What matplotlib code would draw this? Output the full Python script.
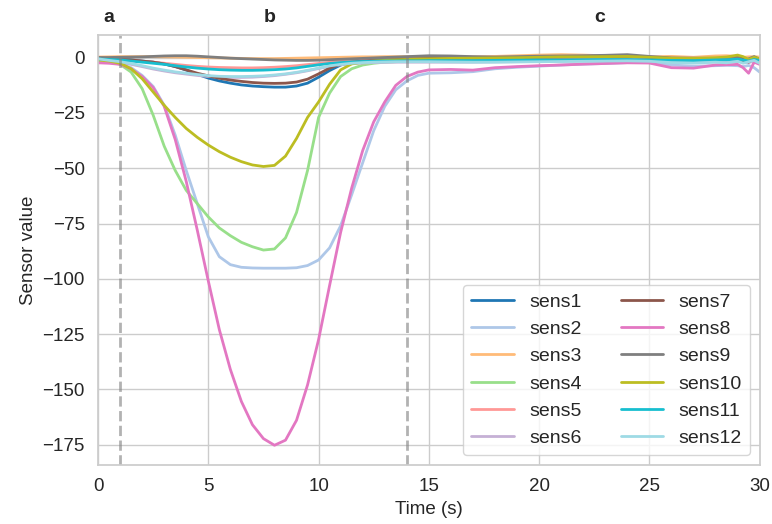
import numpy as np
import matplotlib.pyplot as plt
import seaborn as sns

# time grid (s): 0.5 s steps up to 15 s, then coarser, denser again at the very end
t = np.concatenate([np.arange(0, 15.01, 0.5), np.arange(16, 28.01, 1),
                    [28.5, 29, 29.25, 29.5, 29.75, 30]])

sens1 = [0, -0.3, -0.6, -1, -1.5, -2, -2.8, -4, -5.6, -7.5, -9.2, -10.5, -11.5, -12.3, -12.8, -13.1,
         -13.3, -13.3, -12.8, -11.5, -8.8, -5.8, -3.3, -2.2, -1.6, -1.3, -1.1, -1, -0.9, -0.8, -0.7,
         -0.6, -0.5, -0.4, -0.3, -0.2, -0.2, -0.1, 0, 0.1, -0.3, -0.8, -1, -0.8,
         -0.6, -0.5, -0.8, -1.5, -0.6, -1]
sens2 = [-1.5, -2, -2.8, -4.5, -8, -13, -21.5, -35, -51, -66, -81, -90, -93.6, -94.8, -95.1, -95.2,
         -95.2, -95.2, -95, -94, -91.5, -86, -76, -62, -47.5, -33, -22, -14.5, -10.5, -8, -7,
         -6.8, -6.3, -5, -4.3, -3.8, -3.3, -2.9, -2.6, -2.2, -2.2, -3.3, -3.8, -3.6,
         -3.4, -3.6, -4, -3.5, -4.5, -6.5]
sens3 = [0.3, 0.4, 0.5, 0.5, 0.5, 0.5, 0.4, 0.3, 0.2, 0.1, 0, -0.1, -0.2, -0.3, -0.4, -0.4,
         -0.4, -0.3, -0.2, -0.1, 0, 0.1, 0.2, 0.3, 0.4, 0.4, 0.5, 0.5, 0.5, 0.5, 0.4,
         0.3, 0.4, 0.6, 0.9, 1.2, 1.4, 1.2, 0.9, 0.8, 0.4, 0.6, 0.2, 0.8,
         0.9, 0.6, 0.2, 0.4, 0.5, 0.3]
sens4 = [-1, -1.5, -3, -6.5, -14, -26, -40, -51, -60, -66, -72, -77, -80.5, -83.5, -85.5, -87,
         -86.5, -81.5, -70, -51, -27, -16, -8.5, -5, -3.3, -2.5, -2, -1.8, -1.5, -1.3, -1.2,
         -1.0, -0.9, -0.8, -0.6, -0.4, -0.2, -0.1, 0, 0.1, -0.2, -0.6, -0.7, -0.5,
         -0.4, 0.4, -0.4, -0.9, 0.3, -0.6]
sens5 = [-0.3, -0.5, -0.8, -1.2, -1.6, -2, -2.5, -3, -3.5, -3.9, -4.2, -4.4, -4.5, -4.6, -4.6, -4.5,
         -4.3, -4.0, -3.6, -3.1, -2.6, -2.1, -1.7, -1.4, -1.2, -1.1, -1, -1, -0.9, -0.9, -0.8,
         -0.8, -0.8, -0.7, -0.6, -0.5, -0.5, -0.4, -0.3, -0.3, -0.5, -0.9, -1.0, -0.8,
         -0.7, -0.6, -0.8, -1.2, -0.7, -1.0]
sens6 = [-1, -1.5, -2.2, -3, -4, -5.1, -6, -6.8, -7.4, -8, -8.5, -8.8, -8.9, -8.9, -8.8, -8.5,
         -8.1, -7.5, -6.8, -5.9, -4.9, -3.9, -3.2, -2.7, -2.4, -2.2, -2.1, -2, -2, -2, -2,
         -2.0, -2.0, -1.9, -1.8, -1.7, -1.6, -1.5, -1.4, -1.3, -1.5, -2.0, -2.2, -1.9,
         -2.0, -1.7, -2.0, -2.2, -1.5, -2.0]
sens7 = [0, -0.3, -0.6, -1, -1.5, -2, -2.8, -4, -5.5, -7, -8.2, -9.3, -10.1, -10.7, -11.2, -11.5,
         -11.6, -11.5, -11, -9.7, -7.3, -4.7, -2.8, -2, -1.5, -1.2, -1, -0.8, -0.6, -0.4, -0.3,
         -0.2, -0.1, 0, 0.1, 0.2, 0.3, 0.4, 0.5, 0.7, 0.2, -0.3, -0.5, -0.4,
         -0.2, 0.5, -0.5, -2, 0, -0.5]
sens8 = [-2.3, -2.5, -3, -5, -8.5, -13.5, -22, -37, -56, -78, -101, -123, -141, -155.5, -166, -172.3,
         -175.3, -173, -164, -148, -127.5, -103, -79, -59, -42, -29, -20, -12.5, -8.5, -6.5, -5.5,
         -5.3, -5.6, -4.5, -4.0, -3.6, -3.3, -2.9, -2.6, -2.3, -2.4, -4.5, -4.7, -3.3,
         -3.2, -3.0, -4.5, -7.0, -2.0, -3.0]
sens9 = [0, 0.1, 0.2, 0.3, 0.4, 0.6, 0.8, 0.9, 0.9, 0.7, 0.4, 0.1, -0.2, -0.4, -0.6, -0.8,
         -1, -1.1, -1.2, -1.2, -1.1, -0.9, -0.7, -0.5, -0.3, -0.1, 0.1, 0.3, 0.5, 0.7, 0.9,
         0.8, 0.5, 0.3, 0.5, 0.7, 0.8, 0.9, 1.1, 1.4, 0.6, -0.1, -0.2, -0.3,
         -0.2, 0.3, -1.5, -0.5, 0.5, -0.8]
sens10 = [-1, -1.5, -2.5, -5, -9.5, -15.5, -21.5, -27, -32, -36, -39.5, -42.5, -45, -47, -48.5, -49.2,
          -48.7, -44.5, -36.5, -27, -20, -12, -5.5, -2.8, -2, -1.5, -1.2, -1, -0.8, -0.6, -0.5,
          -0.3, -0.2, -0.1, 0, 0.2, 0.4, 0.4, 0.5, 0.6, 0.2, -0.2, -0.3, 0,
          0.3, 1.2, 0.5, -0.8, 0.2, -0.5]
sens11 = [-0.5, -0.8, -1, -1.5, -2, -2.5, -3, -3.6, -4.2, -4.7, -5.1, -5.4, -5.6, -5.7, -5.7, -5.6,
          -5.4, -5.1, -4.6, -3.9, -3.2, -2.6, -2.2, -1.9, -1.7, -1.6, -1.5, -1.5, -1.4, -1.4, -1.3,
          -1.3, -1.3, -1.2, -1.1, -1.0, -1.0, -0.9, -0.8, -0.8, -1.0, -1.2, -1.3, -1.0,
          -0.9, -0.7, -1.0, -1.5, -0.8, -1.2]
sens12 = [-0.5, -1.2, -1.8, -2.6, -3.6, -4.7, -5.6, -6.4, -7, -7.6, -8.1, -8.4, -8.5, -8.5, -8.4, -8.2,
          -7.8, -7.3, -6.6, -5.7, -4.7, -3.7, -3, -2.5, -2.2, -2, -1.9, -1.8, -1.8, -1.8, -1.8,
          -1.9, -2.0, -2.0, -1.9, -1.8, -1.7, -1.6, -1.5, -1.4, -1.6, -2.2, -2.4, -2.0,
          -2.3, -1.6, -2.5, -1.8, -1.2, -2.5]

series = [sens1, sens2, sens3, sens4, sens5, sens6, sens7, sens8, sens9, sens10, sens11, sens12]
names = ["sens%d" % (i + 1) for i in range(12)]
colors = ["#1f77b4", "#aec7e8", "#ffbb78", "#98df8a", "#ff9896", "#c5b0d5",
          "#8c564b", "#e377c2", "#7f7f7f", "#bcbd22", "#17becf", "#9edae5"]

phase_bounds = [1, 14]
phase_labels = ["a", "b", "c"]
phase_label_x = [0.5, 7.8, 22.75]

sns.set_theme(style="whitegrid")
plt.rcParams['font.family'] = ['Liberation Sans', 'DejaVu Sans']

fig, ax = plt.subplots(figsize=(7.72, 5.24), dpi=100)
fig.subplots_adjust(left=0.127, right=0.984, top=0.933, bottom=0.113)

for y, name, c in zip(series, names, colors):
    ax.plot(t, y, color=c, lw=2, label=name)

for xb in phase_bounds:
    ax.axvline(xb, color="gray", ls="--", lw=2, alpha=0.6)

trans = ax.get_xaxis_transform()
for lab, xl in zip(phase_labels, phase_label_x):
    ax.text(xl, 1.04, lab, transform=trans, ha="center", va="center",
            fontsize=14, fontweight="bold", color="#262626")

ax.set_xlim(0, 30)
ax.set_xlabel("Time (s)", fontsize=13.5)
ax.set_ylabel("Sensor value", fontsize=13.5)
ax.tick_params(labelsize=13.5)
ax.legend(ncol=2, loc="lower right", fontsize=14, frameon=True,
          handlelength=2.2, columnspacing=2.0, labelspacing=0.5)

plt.savefig("out.png", dpi=100)
